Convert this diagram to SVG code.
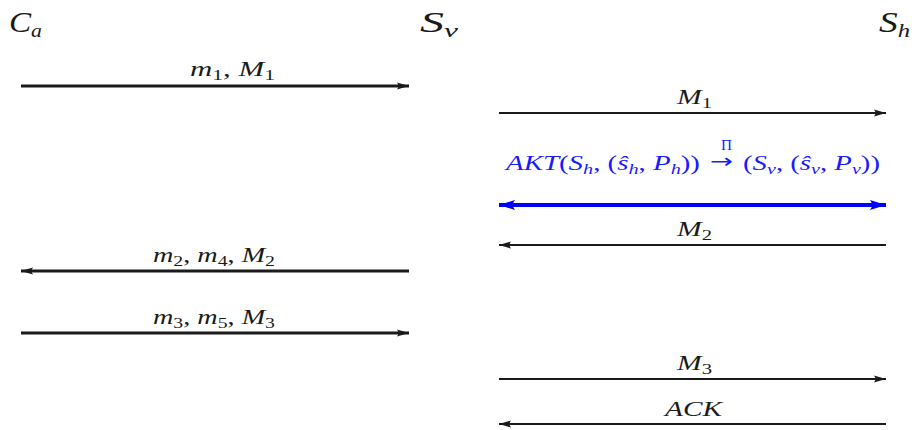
<svg xmlns="http://www.w3.org/2000/svg" width="912" height="430" viewBox="0 0 912 430">
<style>
text{font-family:"Liberation Serif","DejaVu Serif",serif;fill:#1a1a1a}
.t{font-size:29px;font-style:italic}
.l{font-size:20px;text-anchor:start}
.i{font-style:italic}
.s{font-size:14px}
.blue{fill:#1a1aff}
.arr{font-family:"DejaVu Sans",sans-serif;font-size:20px}
.thick{stroke:#1a1a1a;stroke-width:3;fill:none}
.thin{stroke:#1a1a1a;stroke-width:2;fill:none}
.bl{stroke:#0000ff;stroke-width:4;fill:none}
</style>
<defs>
<marker id="ah" markerUnits="userSpaceOnUse" markerWidth="14" markerHeight="10" refX="12" refY="5" orient="auto-start-reverse"><path d="M0,1.5 L12,5 L0,8.5 L2,5 Z" fill="#1a1a1a"/></marker>
<marker id="ahb" markerUnits="userSpaceOnUse" markerWidth="18" markerHeight="12" refX="16" refY="6" orient="auto-start-reverse"><path d="M0,1 L16,6 L0,11 L3,6 Z" fill="#0000ff"/></marker>
</defs>
<g id="Ca"><text class="t" x="9" y="32" textLength="33" lengthAdjust="spacingAndGlyphs">C<tspan dy="5" font-size="19">a</tspan></text></g>
<g id="Sv"><text class="t" x="420" y="32" textLength="38" lengthAdjust="spacingAndGlyphs">S<tspan dy="5" font-size="19">v</tspan></text></g>
<g id="Sh"><text class="t" x="879" y="32" textLength="31" lengthAdjust="spacingAndGlyphs">S<tspan dy="5" font-size="19">h</tspan></text></g>
<g id="connectors">
<line class="thick" x1="21" y1="86" x2="409" y2="86" marker-end="url(#ah)"/>
<text class="l" x="190" y="76" textLength="85" lengthAdjust="spacingAndGlyphs"><tspan class="i">m</tspan><tspan class="s" dy="4">1</tspan><tspan dy="-4">, </tspan><tspan class="i">M</tspan><tspan class="s" dy="4">1</tspan></text>
<line class="thin" x1="499" y1="113" x2="886" y2="113" marker-end="url(#ah)"/>
<text class="l" x="677" y="104" textLength="35" lengthAdjust="spacingAndGlyphs"><tspan class="i">M</tspan><tspan class="s" dy="4">1</tspan></text>
<text class="l blue" x="506" y="170" textLength="194" lengthAdjust="spacingAndGlyphs"><tspan class="i">AKT</tspan>(<tspan class="i">S</tspan><tspan class="s i" dy="4">h</tspan><tspan dy="-4">, (</tspan><tspan class="i">ŝ</tspan><tspan class="s i" dy="4">h</tspan><tspan dy="-4">, </tspan><tspan class="i">P</tspan><tspan class="s i" dy="4">h</tspan><tspan dy="-4">))</tspan></text>
<text class="blue arr" x="710" y="168" textLength="23" lengthAdjust="spacingAndGlyphs">→</text>
<text class="l blue" x="743" y="170" textLength="137" lengthAdjust="spacingAndGlyphs">(<tspan class="i">S</tspan><tspan class="s i" dy="4">v</tspan><tspan dy="-4">, (</tspan><tspan class="i">ŝ</tspan><tspan class="s i" dy="4">v</tspan><tspan dy="-4">, </tspan><tspan class="i">P</tspan><tspan class="s i" dy="4">v</tspan><tspan dy="-4">))</tspan></text>
<text class="blue" x="721" y="150" font-size="14" textLength="11" lengthAdjust="spacingAndGlyphs">Π</text>
<line class="bl" x1="499" y1="205" x2="886" y2="205" marker-start="url(#ahb)" marker-end="url(#ahb)"/>
<line class="thin" x1="886" y1="245" x2="499" y2="245" marker-end="url(#ah)"/>
<text class="l" x="677" y="236" textLength="35" lengthAdjust="spacingAndGlyphs"><tspan class="i">M</tspan><tspan class="s" dy="4">2</tspan></text>
<line class="thick" x1="409" y1="271" x2="21" y2="271" marker-end="url(#ah)"/>
<text class="l" x="153" y="262" textLength="122" lengthAdjust="spacingAndGlyphs"><tspan class="i">m</tspan><tspan class="s" dy="4">2</tspan><tspan dy="-4">, </tspan><tspan class="i">m</tspan><tspan class="s" dy="4">4</tspan><tspan dy="-4">, </tspan><tspan class="i">M</tspan><tspan class="s" dy="4">2</tspan></text>
<line class="thick" x1="21" y1="333" x2="409" y2="333" marker-end="url(#ah)"/>
<text class="l" x="153" y="324" textLength="122" lengthAdjust="spacingAndGlyphs"><tspan class="i">m</tspan><tspan class="s" dy="4">3</tspan><tspan dy="-4">, </tspan><tspan class="i">m</tspan><tspan class="s" dy="4">5</tspan><tspan dy="-4">, </tspan><tspan class="i">M</tspan><tspan class="s" dy="4">3</tspan></text>
<line class="thin" x1="499" y1="379" x2="886" y2="379" marker-end="url(#ah)"/>
<text class="l" x="677" y="370" textLength="35" lengthAdjust="spacingAndGlyphs"><tspan class="i">M</tspan><tspan class="s" dy="4">3</tspan></text>
<line class="thin" x1="886" y1="424" x2="499" y2="424" marker-end="url(#ah)"/>
<text class="l i" x="665" y="416" textLength="57" lengthAdjust="spacingAndGlyphs">ACK</text>
</g>
</svg>
